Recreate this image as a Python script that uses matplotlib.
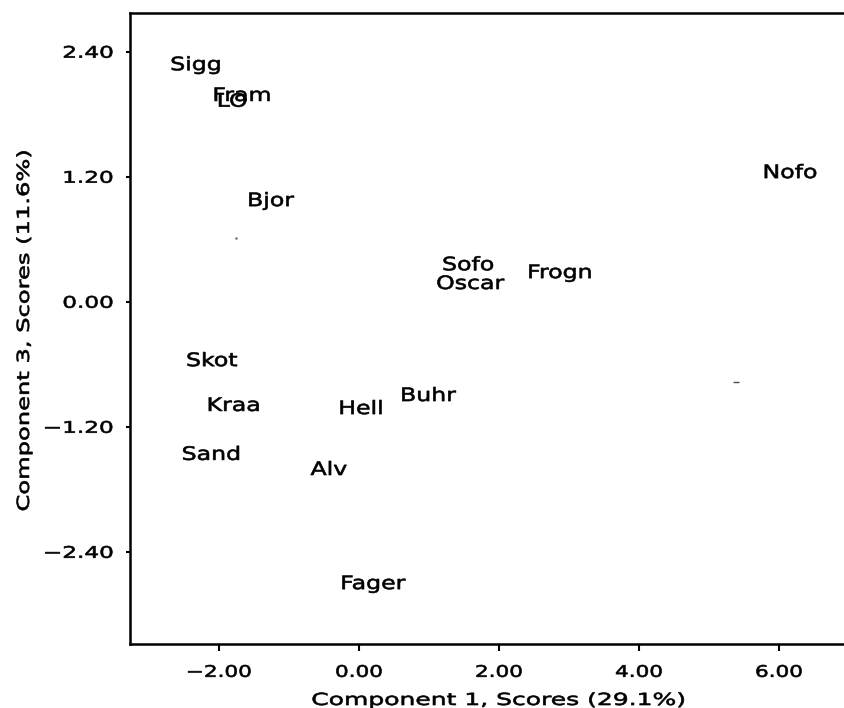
import matplotlib
matplotlib.use("Agg")
import matplotlib.pyplot as plt
from matplotlib import patheffects
from matplotlib.transforms import Affine2D

# component scores for each unit (component 1 vs component 3)
names = ["Sigg", "Fram", "LO", "Bjor", "Nofo", "Sofo", "Oscar", "Frogn",
         "Skot", "Kraa", "Buhr", "Hell", "Sand", "Alv", "Fager"]
comp1 = [-2.33, -1.67, -1.81, -1.26, 6.16, 1.56, 1.59, 2.87,
         -2.10, -1.79, 0.99, 0.03, -2.11, -0.43, 0.20]
comp3 = [2.27, 1.975, 1.92, 0.966, 1.235, 0.35, 0.17, 0.275,
         -0.57, -1.00, -0.905, -1.03, -1.47, -1.615, -2.71]

# two stray plotted specks
speck_x = [-1.757]
speck_y = [0.611]
dash_x = [5.39]
dash_y = [-0.77]

xticks = [-2.0, 0.0, 2.0, 4.0, 6.0]
xticklabels = ["\u22122.00", "0.00", "2.00", "4.00", "6.00"]
yticks = [-2.4, -1.2, 0.0, 1.2, 2.4]
yticklabels = ["\u22122.40", "\u22121.20", "0.00", "1.20", "2.40"]

xlabel = "Component 1, Scores (29.1%)"
ylabel = "Component 3, Scores (11.6%)"


class Widen(patheffects.AbstractPathEffect):
    """Stretch glyphs horizontally around an anchor and give them a heavier pen."""

    def __init__(self, sx, anchor='center', lw=0.45):
        super().__init__()
        self.sx = sx
        self.anchor = anchor
        self.lw = lw

    def draw_path(self, renderer, gc, tpath, affine, rgbFace=None):
        ext = tpath.get_extents()
        x0 = {'left': ext.x0, 'center': 0.5 * (ext.x0 + ext.x1),
              'right': ext.x1}[self.anchor]
        trans = Affine2D().translate(-x0, 0).scale(self.sx, 1).translate(x0, 0) + affine
        gc0 = renderer.new_gc()
        gc0.copy_properties(gc)
        gc0.set_linewidth(self.lw)
        gc0.set_foreground('black')
        renderer.draw_path(gc0, tpath, trans, rgbFace)
        gc0.restore()


plt.rcParams['font.family'] = ['DejaVu Sans']

fig = plt.figure(figsize=(8.45, 7.08), dpi=100)
ax = fig.add_axes([0.1538, 0.0904, 0.871, 0.8912])

for name, x, y in zip(names, comp1, comp3):
    ax.text(x, y, name, ha='center', va='center', fontsize=13.3,
            color='black', path_effects=[Widen(1.28)])

ax.plot(speck_x, speck_y, linestyle='none', marker='.', ms=1.5, color='0.4')
ax.plot(dash_x, dash_y, linestyle='none', marker='_', ms=4, mew=1, color='0.3')

ax.set_xlim(-3.271, 7.243)
ax.set_ylim(-3.285, 2.771)

ax.set_xticks(xticks)
ax.set_xticklabels(xticklabels, fontsize=11.5)
ax.set_yticks(yticks)
ax.set_yticklabels(yticklabels, fontsize=11.5)
ax.tick_params(axis='x', direction='out', length=5, width=1.5, pad=10)
ax.tick_params(axis='y', direction='out', length=3, width=1.5, pad=9)
for lbl in ax.get_xticklabels():
    lbl.set_path_effects([Widen(1.35)])
for lbl in ax.get_yticklabels():
    lbl.set_path_effects([Widen(1.45, anchor='right')])

ax.set_xlabel(xlabel, fontsize=12, path_effects=[Widen(1.5)])
ax.set_ylabel(ylabel, fontsize=12, path_effects=[Widen(1.45)])
ax.xaxis.set_label_coords(0.5, -0.0745)
ax.yaxis.set_label_coords(-0.1318, 0.496)

for side in ['left', 'bottom', 'top', 'right']:
    ax.spines[side].set_linewidth(1.8)

fig.savefig("out.png", dpi=100)
